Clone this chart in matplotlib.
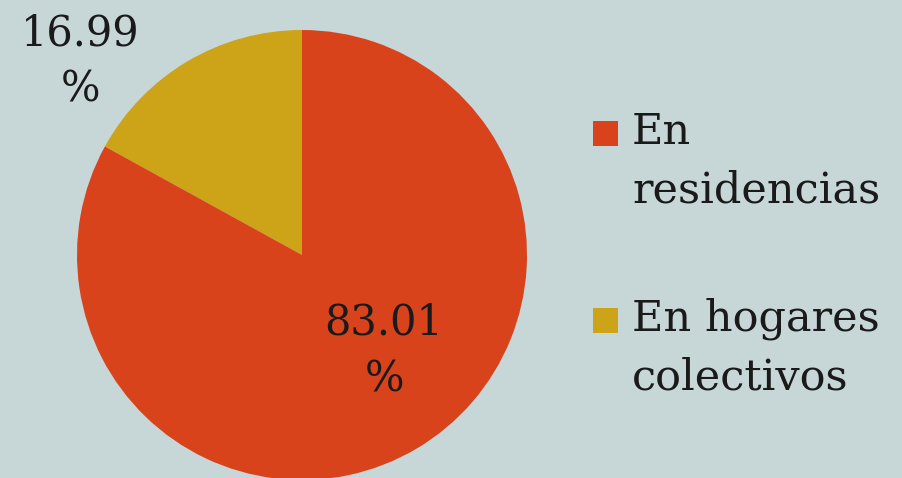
import matplotlib.pyplot as plt
from matplotlib.patches import Rectangle

# --- datos ---
categorias = ["En hogares\ncolectivos", "En residencias"]
porcentajes = [16.99, 83.01]
colores = ["#cda318", "#d9431b"]
leyenda_orden = [1, 0]  # en residencias primero

fondo = "#c7d6d7"
plt.rcParams["font.family"] = ["DejaVu Serif"]

fig = plt.figure(figsize=(9.03, 4.78), dpi=100, facecolor=fondo)

# ejes del pastel: centro (302, 255) px, radio 225 px
W, H = 903, 478
cx, cy, r = 302, H - 255, 225
ax = fig.add_axes([(cx - r) / W, (cy - r) / H, 2 * r / W, 2 * r / H])
ax.set_facecolor(fondo)

ax.pie(porcentajes, colors=colores, startangle=90, counterclock=True,
       wedgeprops=dict(linewidth=0))
ax.set_xlim(-1, 1)
ax.set_ylim(-1, 1)
ax.set_aspect("equal")
ax.axis("off")

# etiquetas de porcentaje
pos_etiquetas = [(-0.985, 0.86), (0.365, -0.425)]
for v, (x, y) in zip(porcentajes, pos_etiquetas):
    ax.text(x, y, f"{v:.2f}\n%", ha="center", va="center", fontsize=30,
            linespacing=1.45, color="#1a1a1a", clip_on=False)

# leyenda manual
pos_leyenda = [121, 308]  # borde superior de cada cuadro, px desde arriba
for i, top in zip(leyenda_orden, pos_leyenda):
    fig.patches.append(Rectangle((593 / W, 1 - (top + 25) / H), 25 / W, 25 / H,
                                 transform=fig.transFigure, facecolor=colores[i],
                                 edgecolor="none"))
    etiqueta = categorias[i] if "\n" in categorias[i] else categorias[i].replace(" ", "\n", 1)
    fig.text(632 / W, 1 - (top - 10) / H, etiqueta,
             ha="left", va="top", fontsize=31, linespacing=1.5, color="#1a1a1a")

fig.savefig("out.png", dpi=100, facecolor=fondo)
